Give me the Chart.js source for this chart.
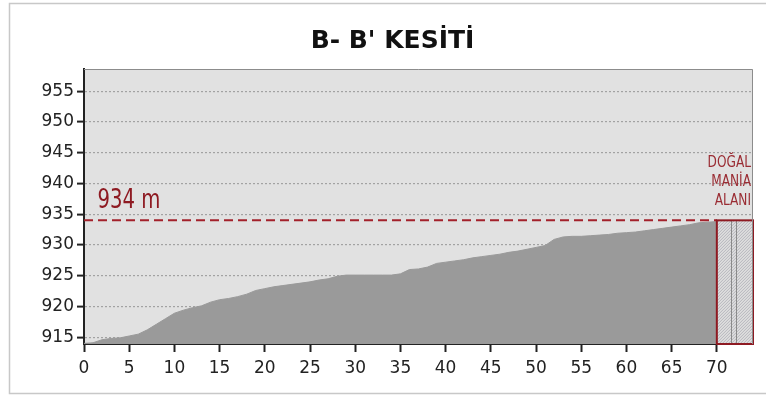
<!DOCTYPE html>
<html>
<head>
<meta charset="utf-8">
<script src="https://cdn.jsdelivr.net/npm/chart.js@4/dist/chart.umd.min.js"></script>
<style>
    html, body { margin: 0; padding: 0; background: #fff; }
    #wrap { width: 767px; height: 396px; }
</style>
</head>
<body>
<div id="wrap"><canvas id="kesit" width="767" height="396"></canvas></div>
<script>
// distance along the section (0..70) and ground elevation in metres
const distances = [
    0, 1, 2, 3, 4, 5, 6, 7, 8, 9,
    10, 11, 12, 13, 14, 15, 16, 17, 18, 19,
    20, 21, 22, 23, 24, 25, 26, 27, 28, 29,
    30, 31, 32, 33, 34, 35, 36, 37, 38, 39,
    40, 41, 42, 43, 44, 45, 46, 47, 48, 49,
    50, 51, 52, 53, 54, 55, 56, 57, 58, 59,
    60, 61, 62, 63, 64, 65, 66, 67, 68, 69, 70
];
const elevations = [
    914.0, 914.1, 914.6, 914.8, 914.9, 915.2, 915.5, 916.2, 917.1, 918.0,
    918.9, 919.4, 919.8, 920.1, 920.7, 921.1, 921.3, 921.6, 922.0, 922.6,
    922.9, 923.2, 923.4, 923.6, 923.8, 924.0, 924.3, 924.5, 924.9, 925.1,
    925.1, 925.1, 925.1, 925.1, 925.1, 925.3, 926.0, 926.1, 926.4, 927.0,
    927.2, 927.4, 927.6, 927.9, 928.1, 928.3, 928.5, 928.8, 929.0, 929.3,
    929.6, 929.9, 930.9, 931.3, 931.4, 931.4, 931.5, 931.6, 931.7, 931.9,
    932.0, 932.1, 932.3, 932.5, 932.7, 932.9, 933.1, 933.3, 933.6, 933.7, 933.8
];
const xTicks = [0, 5, 10, 15, 20, 25, 30, 35, 40, 45, 50, 55, 60, 65, 70];
const yTicks = [915, 920, 925, 930, 935, 940, 945, 950, 955];

const chartTitle = "B- B' KESİTİ";
const levelValue = 934;
const levelLabel = '934 m';
const levelLine = [{x: 0, y: levelValue}, {x: 70, y: levelValue}];
const maniaStart = 70;
const maniaEnd = 74;
const maniaDividers = [71.6, 72.1];
const maniaLabel = ['DOĞAL', 'MANİA', 'ALANI'];

const darkRed = '#8e1a22';
const narrowFont = '"DejaVu Sans Condensed", sans-serif';

// draw text squeezed horizontally (the original uses a narrow DIN-like face)
function squeezedText(ctx, text, x, y, sx) {
    ctx.save();
    ctx.translate(x, y);
    ctx.scale(sx, 1);
    ctx.fillText(text, 0, 0);
    ctx.restore();
}

const frameAndAnnotations = {
    id: 'frameAndAnnotations',
    beforeDraw(chart) {
        const {ctx, chartArea} = chart;
        ctx.save();
        ctx.strokeStyle = '#c8c8c8';
        ctx.lineWidth = 1.5;
        ctx.beginPath();
        ctx.moveTo(766, 3.5);
        ctx.lineTo(9.5, 3.5);
        ctx.lineTo(9.5, 393.5);
        ctx.lineTo(766, 393.5);
        ctx.stroke();
        ctx.fillStyle = '#e1e1e1';
        ctx.fillRect(chartArea.left, chartArea.top, chartArea.right - chartArea.left, chartArea.bottom - chartArea.top);

        ctx.fillStyle = '#111';
        ctx.font = 'bold 25px "DejaVu Sans", sans-serif';
        ctx.textAlign = 'center';
        ctx.textBaseline = 'alphabetic';
        ctx.fillText(chartTitle, 392.5, 48);
        ctx.restore();
    },
    afterDatasetsDraw(chart) {
        const {ctx, chartArea} = chart;
        const x = chart.scales.x, y = chart.scales.y;
        const x0 = x.getPixelForValue(maniaStart);
        const x1 = x.getPixelForValue(maniaEnd);
        const yTop = y.getPixelForValue(levelValue);
        const yBot = chartArea.bottom;

        ctx.save();
        // hatched natural obstacle zone
        ctx.fillStyle = '#dedede';
        ctx.fillRect(x0, yTop, x1 - x0, yBot - yTop);
        ctx.beginPath();
        ctx.rect(x0, yTop, x1 - x0, yBot - yTop);
        ctx.clip();
        ctx.strokeStyle = '#a9a9b4';
        ctx.lineWidth = 0.8;
        for (let k = -400; k < 100; k += 3) {
            ctx.beginPath();
            ctx.moveTo(x0 + k, yBot);
            ctx.lineTo(x0 + k + (yBot - yTop), yTop);
            ctx.stroke();
        }
        ctx.strokeStyle = '#8a8a8a';
        ctx.lineWidth = 1;
        maniaDividers.forEach(v => {
            const px = Math.round(x.getPixelForValue(v)) + 0.5;
            ctx.beginPath();
            ctx.moveTo(px, yTop);
            ctx.lineTo(px, yBot);
            ctx.stroke();
        });
        ctx.restore();

        ctx.save();
        ctx.strokeStyle = darkRed;
        ctx.lineWidth = 2;
        ctx.strokeRect(x0, yTop, x1 - x0, yBot - yTop);

        // outer top & right border of the plot
        ctx.strokeStyle = '#8c8c8c';
        ctx.lineWidth = 1;
        ctx.beginPath();
        ctx.moveTo(chartArea.left, chartArea.top + 0.5);
        ctx.lineTo(chartArea.right - 0.5, chartArea.top + 0.5);
        ctx.lineTo(chartArea.right - 0.5, chartArea.bottom);
        ctx.stroke();

        ctx.fillStyle = darkRed;
        ctx.font = '26px ' + narrowFont;
        ctx.textAlign = 'left';
        ctx.textBaseline = 'alphabetic';
        squeezedText(ctx, levelLabel, x.getPixelForValue(1.5), yTop - 12, 0.84);

        ctx.font = '15px ' + narrowFont;
        ctx.fillStyle = '#9a2c33';
        ctx.textAlign = 'right';
        ctx.textBaseline = 'middle';
        maniaLabel.forEach((t, i) => {
            squeezedText(ctx, t, chartArea.right - 2, yTop - 57 + i * 19, 0.9);
        });
        ctx.restore();
    }
};

const chart = new Chart(
    document.getElementById('kesit'),
    {
        type: 'line',
        data: {
            datasets: [
                {
                    label: 'Kot',
                    data: distances.map((d, i) => ({x: d, y: elevations[i]})),
                    backgroundColor: '#9a9a9a',
                    borderColor: '#9a9a9a',
                    borderWidth: 1,
                    pointRadius: 0,
                    fill: 'start',
                    tension: 0,
                    order: 2
                },
                {
                    label: levelLabel,
                    data: levelLine,
                    borderColor: '#a3212b',
                    borderWidth: 2,
                    borderDash: [9, 5],
                    pointRadius: 0,
                    fill: false,
                    order: 1
                }
            ]
        },
        options: {
            responsive: false,
            animation: false,
            layout: {
                padding: {left: 10, right: 14, top: 69, bottom: 10}
            },
            plugins: {
                legend: {display: false},
                tooltip: {enabled: false},
                title: {display: false}
            },
            scales: {
                x: {
                    type: 'linear',
                    min: 0,
                    max: 74,
                    afterBuildTicks: scale => { scale.ticks = xTicks.map(v => ({value: v})); },
                    afterFit: scale => { scale.height = 42; },
                    ticks: {
                        color: '#222',
                        font: {family: '"DejaVu Sans", sans-serif', size: 17},
                        padding: 6,
                        maxRotation: 0
                    },
                    grid: {
                        display: true,
                        drawOnChartArea: false,
                        drawTicks: true,
                        tickLength: 8,
                        tickColor: '#222',
                        tickWidth: 2
                    },
                    border: {display: true, color: '#222', width: 2}
                },
                y: {
                    type: 'linear',
                    min: 913.9,
                    max: 958.6,
                    afterBuildTicks: scale => { scale.ticks = yTicks.map(v => ({value: v})); },
                    afterFit: scale => { scale.width = 74; },
                    ticks: {
                        color: '#222',
                        font: {family: '"DejaVu Sans", sans-serif', size: 17},
                        padding: 3
                    },
                    grid: {
                        display: true,
                        drawOnChartArea: true,
                        drawTicks: true,
                        tickLength: 7,
                        color: '#a2a2a2',
                        lineWidth: 1.2,
                        tickColor: '#222',
                        tickWidth: 2,
                        tickBorderDash: []
                    },
                    border: {display: true, color: '#222', width: 2, dash: [2, 2]}
                }
            }
        },
        plugins: [frameAndAnnotations]
    }
);
</script>
</body>
</html>
